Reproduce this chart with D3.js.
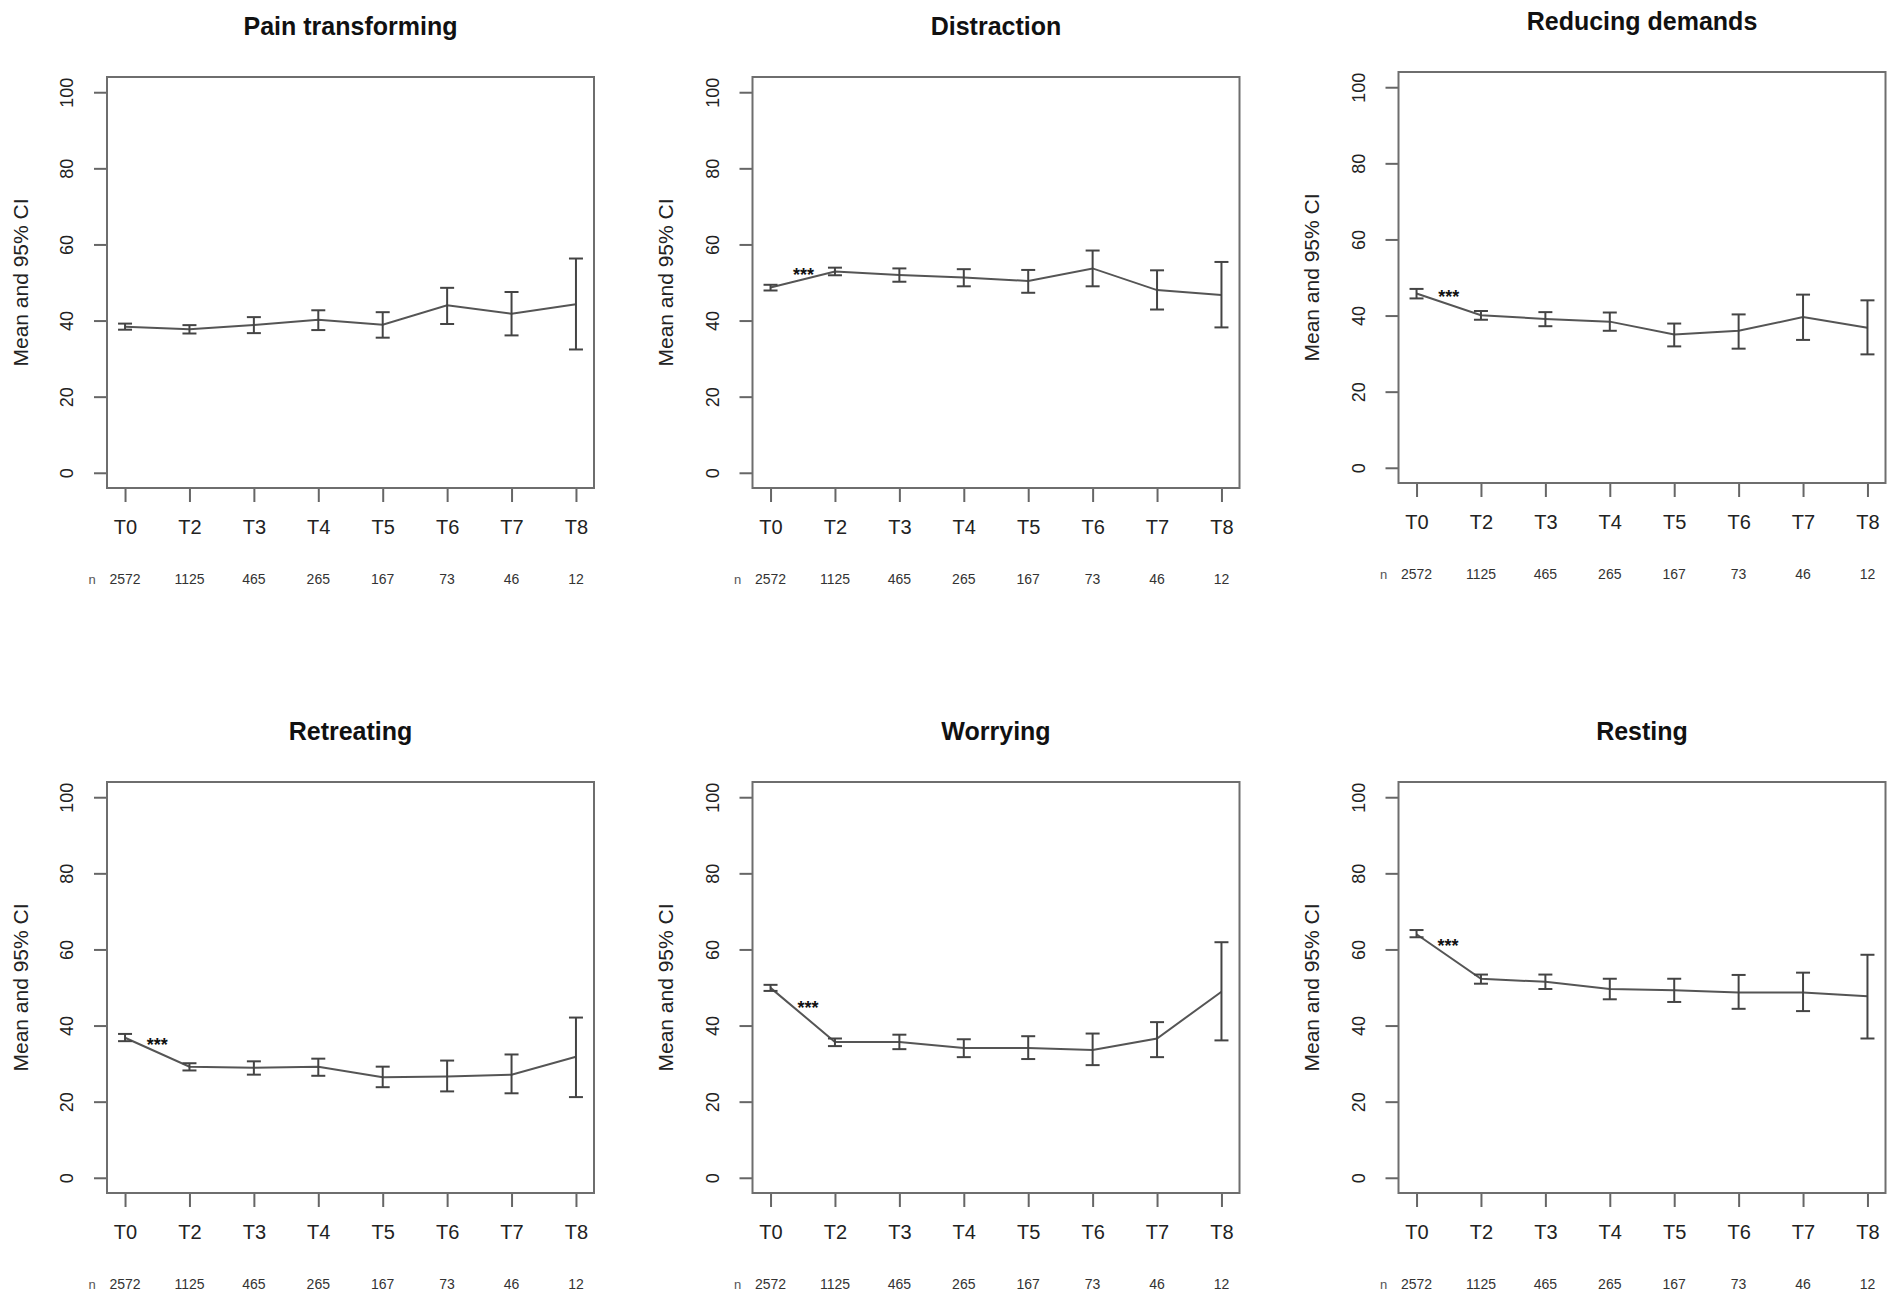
<!DOCTYPE html>
<html>
<head>
<meta charset="utf-8">
<script src="https://cdn.jsdelivr.net/npm/d3@7"></script>
<style>
  body { margin: 0; background: #fff; }
  text { font-family: "Liberation Sans", Arial, sans-serif; }
</style>
</head>
<body>
<div id="chart"></div>
<script>
// time points and group sizes (same for every panel)
var timepoints = ["T0", "T2", "T3", "T4", "T5", "T6", "T7", "T8"];
var sampleSizes = [2572, 1125, 465, 265, 167, 73, 46, 12];
var yTicks = [0, 20, 40, 60, 80, 100];

var panelTitles = ["Pain transforming", "Distraction", "Reducing demands",
                   "Retreating", "Worrying", "Resting"];

// means and 95% CI
var painMean  = [38.4, 37.7, 38.8, 40.2, 38.9, 44.0, 41.8, 44.3];
var painLow   = [37.6, 36.6, 36.7, 37.5, 35.5, 39.1, 36.1, 32.4];
var painHigh  = [39.2, 38.8, 40.9, 42.7, 42.2, 48.6, 47.5, 56.3];

var distrMean = [48.7, 52.9, 52.0, 51.3, 50.4, 53.7, 48.0, 46.7];
var distrLow  = [47.9, 51.9, 50.2, 49.0, 47.3, 49.0, 42.9, 38.2];
var distrHigh = [49.4, 53.9, 53.7, 53.5, 53.3, 58.4, 53.2, 55.4];

var reducMean = [45.8, 40.1, 39.1, 38.4, 35.0, 36.0, 39.6, 36.8];
var reducLow  = [44.5, 38.9, 37.2, 36.0, 31.9, 31.3, 33.6, 29.8];
var reducHigh = [47.0, 41.2, 40.9, 40.8, 37.9, 40.3, 45.5, 44.0];

var retrMean  = [36.8, 29.2, 28.9, 29.2, 26.4, 26.6, 27.1, 31.8];
var retrLow   = [35.9, 28.2, 27.1, 26.8, 23.8, 22.7, 22.2, 21.2];
var retrHigh  = [37.8, 30.1, 30.6, 31.3, 29.2, 30.8, 32.4, 42.1];

var worrMean  = [49.9, 35.7, 35.7, 34.1, 34.1, 33.6, 36.6, 48.9];
var worrLow   = [49.1, 34.6, 33.8, 31.7, 31.2, 29.6, 31.7, 36.1];
var worrHigh  = [50.7, 36.6, 37.6, 36.4, 37.2, 37.9, 40.9, 61.9];

var restMean  = [64.0, 52.3, 51.5, 49.6, 49.3, 48.7, 48.7, 47.7];
var restLow   = [63.2, 51.0, 49.6, 46.9, 46.2, 44.4, 43.8, 36.6];
var restHigh  = [65.1, 53.4, 53.4, 52.3, 52.3, 53.3, 53.9, 58.6];

// significance marks between T0 and T2 (x in time-point index units)
var sigText = ["", "***", "***", "***", "***", "***"];
var sigX    = [0.5, 0.51, 0.5, 0.5, 0.58, 0.49];
var sigY    = [0, 52.9, 45.8, 35.8, 45.7, 62.0];

var means = [painMean, distrMean, reducMean, retrMean, worrMean, restMean];
var lows  = [painLow, distrLow, reducLow, retrLow, worrLow, restLow];
var highs = [painHigh, distrHigh, reducHigh, retrHigh, worrHigh, restHigh];

// panel placement (box of each plot region)
var boxLeft = [107, 752.5, 1398.5, 107, 752.5, 1398.5];
var boxTop  = [77, 77, 72, 782, 782, 782];
var boxW = 487, boxH = 411;

var svg = d3.select("#chart")
  .append("svg")
    .attr("width", 1902)
    .attr("height", 1304);

function drawPanel(p) {
  var g = svg.append("g")
    .attr("transform", "translate(" + boxLeft[p] + "," + boxTop[p] + ")");

  // R style 4% padding on both axes
  var x = d3.scaleLinear()
    .domain([-0.28, timepoints.length - 1 + 0.28])
    .range([0, boxW]);
  var y = d3.scaleLinear()
    .domain([-4, 104])
    .range([boxH, 0]);

  // title
  g.append("text")
    .attr("x", boxW / 2)
    .attr("y", -51)
    .attr("text-anchor", "middle")
    .attr("dominant-baseline", "central")
    .attr("font-size", 25)
    .attr("font-weight", "bold")
    .attr("fill", "#111")
    .text(panelTitles[p]);

  // y axis
  var ya = g.append("g")
    .call(d3.axisLeft(y).tickValues(yTicks).tickSize(13).tickPadding(0));
  ya.select(".domain").remove();
  ya.selectAll("line").attr("stroke", "#666").attr("stroke-width", 2);
  ya.selectAll("text")
    .attr("x", 0)
    .attr("y", -40)
    .attr("dy", null)
    .attr("transform", "rotate(-90)")
    .attr("text-anchor", "middle")
    .attr("dominant-baseline", "central")
    .attr("font-size", 18)
    .attr("fill", "#222");

  g.append("text")
    .attr("transform", "translate(-87," + (boxH / 2) + ") rotate(-90)")
    .attr("text-anchor", "middle")
    .attr("dominant-baseline", "central")
    .attr("font-size", 21)
    .attr("fill", "#222")
    .text("Mean and 95% CI");

  // x axis
  var xa = g.append("g")
    .attr("transform", "translate(0," + boxH + ")")
    .call(d3.axisBottom(x)
      .tickValues(d3.range(timepoints.length))
      .tickFormat(function(i) { return timepoints[i]; })
      .tickSize(14).tickPadding(0));
  xa.select(".domain").remove();
  xa.selectAll("line").attr("stroke", "#666").attr("stroke-width", 2);
  xa.selectAll("text")
    .attr("y", 38.5)
    .attr("dy", null)
    .attr("dominant-baseline", "central")
    .attr("font-size", 20)
    .attr("fill", "#222");

  // n row
  g.append("text")
    .attr("x", x(0) - 33)
    .attr("y", boxH + 91)
    .attr("text-anchor", "middle")
    .attr("dominant-baseline", "central")
    .attr("font-size", 13)
    .attr("fill", "#555")
    .text("n");
  g.selectAll(".nlab")
    .data(sampleSizes)
    .enter().append("text")
      .attr("class", "nlab")
      .attr("x", function(d, i) { return x(i); })
      .attr("y", boxH + 91)
      .attr("text-anchor", "middle")
      .attr("dominant-baseline", "central")
      .attr("font-size", 14)
      .attr("fill", "#333")
      .text(function(d) { return d; });

  // box
  g.append("rect")
    .attr("width", boxW)
    .attr("height", boxH)
    .attr("fill", "none")
    .attr("stroke", "#6e6e6e")
    .attr("stroke-width", 2);

  // mean line
  g.append("path")
    .datum(means[p])
    .attr("fill", "none")
    .attr("stroke", "#555")
    .attr("stroke-width", 2)
    .attr("d", d3.line()
      .x(function(d, i) { return x(i); })
      .y(function(d) { return y(d); }));

  // error bars
  var cap = 7;
  var bars = g.selectAll(".ci")
    .data(d3.range(timepoints.length))
    .enter().append("g")
      .attr("class", "ci")
      .attr("stroke", "#444")
      .attr("stroke-width", 2);
  bars.append("line")
    .attr("x1", function(i) { return x(i); })
    .attr("x2", function(i) { return x(i); })
    .attr("y1", function(i) { return y(lows[p][i]); })
    .attr("y2", function(i) { return y(highs[p][i]); });
  bars.append("line")
    .attr("x1", function(i) { return x(i) - cap; })
    .attr("x2", function(i) { return x(i) + cap; })
    .attr("y1", function(i) { return y(lows[p][i]); })
    .attr("y2", function(i) { return y(lows[p][i]); });
  bars.append("line")
    .attr("x1", function(i) { return x(i) - cap; })
    .attr("x2", function(i) { return x(i) + cap; })
    .attr("y1", function(i) { return y(highs[p][i]); })
    .attr("y2", function(i) { return y(highs[p][i]); });

  // significance stars
  if (sigText[p]) {
    g.append("text")
      .attr("x", x(sigX[p]))
      .attr("y", y(sigY[p]))
      .attr("dy", "0.55em")
      .attr("text-anchor", "middle")
      .attr("font-size", 18)
      .attr("font-weight", "bold")
      .attr("fill", "#111")
      .text(sigText[p]);
  }
}

for (var p = 0; p < panelTitles.length; p++) {
  drawPanel(p);
}
</script>
</body>
</html>
